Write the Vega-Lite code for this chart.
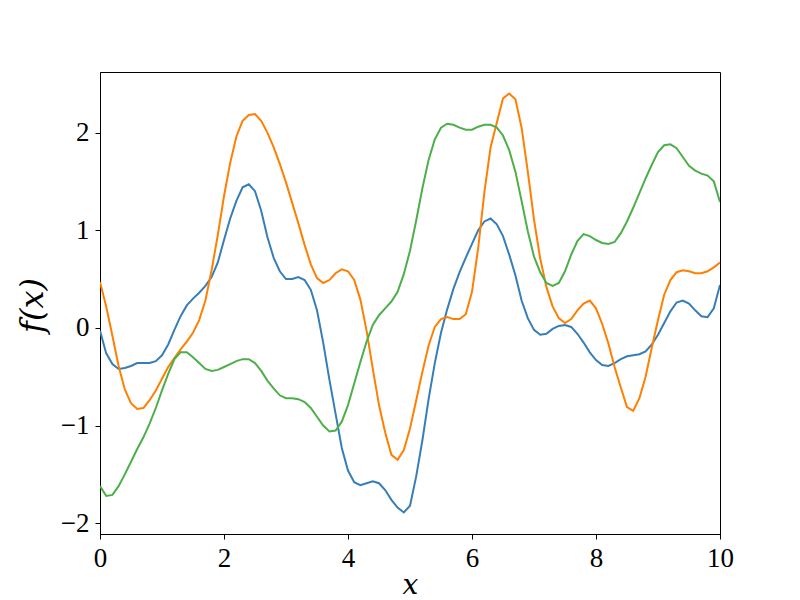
{
  "$schema": "https://vega.github.io/schema/vega-lite/v6.json",
  "width": 620,
  "height": 462,
  "autosize": {"type": "none"},
  "padding": {"left": 100, "top": 72, "right": 80, "bottom": 66},
  "background": "white",
  "config": {
    "view": {"stroke": "black", "strokeWidth": 1},
    "font": "DejaVu Serif"
  },
  "data": {
    "values": [
      {"x": 0.0, "b": -0.03, "o": 0.47, "g": -1.62},
      {"x": 0.1, "b": -0.26, "o": 0.22, "g": -1.72},
      {"x": 0.2, "b": -0.37, "o": -0.08, "g": -1.71},
      {"x": 0.3, "b": -0.42, "o": -0.39, "g": -1.62},
      {"x": 0.4, "b": -0.41, "o": -0.63, "g": -1.50},
      {"x": 0.5, "b": -0.39, "o": -0.77, "g": -1.37},
      {"x": 0.6, "b": -0.36, "o": -0.83, "g": -1.24},
      {"x": 0.7, "b": -0.36, "o": -0.82, "g": -1.12},
      {"x": 0.8, "b": -0.36, "o": -0.74, "g": -0.98},
      {"x": 0.9, "b": -0.34, "o": -0.64, "g": -0.82},
      {"x": 1.0, "b": -0.28, "o": -0.52, "g": -0.64},
      {"x": 1.1, "b": -0.17, "o": -0.40, "g": -0.47},
      {"x": 1.2, "b": -0.02, "o": -0.31, "g": -0.32},
      {"x": 1.3, "b": 0.12, "o": -0.22, "g": -0.25},
      {"x": 1.4, "b": 0.23, "o": -0.14, "g": -0.25},
      {"x": 1.5, "b": 0.30, "o": -0.05, "g": -0.30},
      {"x": 1.6, "b": 0.36, "o": 0.08, "g": -0.36},
      {"x": 1.7, "b": 0.43, "o": 0.28, "g": -0.42},
      {"x": 1.8, "b": 0.52, "o": 0.59, "g": -0.44},
      {"x": 1.9, "b": 0.67, "o": 0.95, "g": -0.43},
      {"x": 2.0, "b": 0.90, "o": 1.35, "g": -0.40},
      {"x": 2.1, "b": 1.12, "o": 1.69, "g": -0.37},
      {"x": 2.2, "b": 1.30, "o": 1.96, "g": -0.34},
      {"x": 2.3, "b": 1.44, "o": 2.12, "g": -0.32},
      {"x": 2.4, "b": 1.47, "o": 2.18, "g": -0.32},
      {"x": 2.5, "b": 1.40, "o": 2.19, "g": -0.36},
      {"x": 2.6, "b": 1.20, "o": 2.12, "g": -0.44},
      {"x": 2.7, "b": 0.93, "o": 2.00, "g": -0.54},
      {"x": 2.8, "b": 0.72, "o": 1.85, "g": -0.62},
      {"x": 2.9, "b": 0.58, "o": 1.68, "g": -0.69},
      {"x": 3.0, "b": 0.50, "o": 1.49, "g": -0.72},
      {"x": 3.1, "b": 0.50, "o": 1.28, "g": -0.72},
      {"x": 3.2, "b": 0.52, "o": 1.07, "g": -0.73},
      {"x": 3.3, "b": 0.49, "o": 0.85, "g": -0.76},
      {"x": 3.4, "b": 0.39, "o": 0.65, "g": -0.82},
      {"x": 3.5, "b": 0.18, "o": 0.51, "g": -0.91},
      {"x": 3.6, "b": -0.15, "o": 0.46, "g": -1.00},
      {"x": 3.7, "b": -0.53, "o": 0.49, "g": -1.06},
      {"x": 3.8, "b": -0.88, "o": 0.56, "g": -1.05},
      {"x": 3.9, "b": -1.23, "o": 0.60, "g": -0.96},
      {"x": 4.0, "b": -1.46, "o": 0.58, "g": -0.79},
      {"x": 4.1, "b": -1.58, "o": 0.49, "g": -0.57},
      {"x": 4.2, "b": -1.61, "o": 0.29, "g": -0.35},
      {"x": 4.3, "b": -1.59, "o": -0.03, "g": -0.14},
      {"x": 4.4, "b": -1.57, "o": -0.42, "g": 0.03},
      {"x": 4.5, "b": -1.59, "o": -0.79, "g": 0.13},
      {"x": 4.6, "b": -1.66, "o": -1.07, "g": 0.20},
      {"x": 4.7, "b": -1.76, "o": -1.30, "g": 0.27},
      {"x": 4.8, "b": -1.84, "o": -1.35, "g": 0.37},
      {"x": 4.9, "b": -1.89, "o": -1.25, "g": 0.55},
      {"x": 5.0, "b": -1.82, "o": -1.03, "g": 0.79},
      {"x": 5.1, "b": -1.52, "o": -0.74, "g": 1.10},
      {"x": 5.2, "b": -1.15, "o": -0.45, "g": 1.43},
      {"x": 5.3, "b": -0.73, "o": -0.18, "g": 1.72},
      {"x": 5.4, "b": -0.36, "o": 0.01, "g": 1.93},
      {"x": 5.5, "b": -0.05, "o": 0.09, "g": 2.05},
      {"x": 5.6, "b": 0.19, "o": 0.11, "g": 2.09},
      {"x": 5.7, "b": 0.40, "o": 0.09, "g": 2.08},
      {"x": 5.8, "b": 0.57, "o": 0.09, "g": 2.05},
      {"x": 5.9, "b": 0.72, "o": 0.14, "g": 2.03},
      {"x": 6.0, "b": 0.86, "o": 0.37, "g": 2.03},
      {"x": 6.1, "b": 1.00, "o": 0.82, "g": 2.06},
      {"x": 6.2, "b": 1.09, "o": 1.39, "g": 2.08},
      {"x": 6.3, "b": 1.12, "o": 1.85, "g": 2.08},
      {"x": 6.4, "b": 1.06, "o": 2.10, "g": 2.05},
      {"x": 6.5, "b": 0.94, "o": 2.35, "g": 1.97},
      {"x": 6.6, "b": 0.75, "o": 2.40, "g": 1.82},
      {"x": 6.7, "b": 0.54, "o": 2.34, "g": 1.60},
      {"x": 6.8, "b": 0.28, "o": 2.05, "g": 1.30},
      {"x": 6.9, "b": 0.10, "o": 1.60, "g": 0.99},
      {"x": 7.0, "b": -0.02, "o": 1.11, "g": 0.73},
      {"x": 7.1, "b": -0.07, "o": 0.71, "g": 0.57},
      {"x": 7.2, "b": -0.06, "o": 0.42, "g": 0.46},
      {"x": 7.3, "b": -0.01, "o": 0.22, "g": 0.43},
      {"x": 7.4, "b": 0.02, "o": 0.10, "g": 0.46},
      {"x": 7.5, "b": 0.03, "o": 0.05, "g": 0.58},
      {"x": 7.6, "b": 0.01, "o": 0.09, "g": 0.75},
      {"x": 7.7, "b": -0.06, "o": 0.18, "g": 0.89},
      {"x": 7.8, "b": -0.15, "o": 0.25, "g": 0.96},
      {"x": 7.9, "b": -0.25, "o": 0.28, "g": 0.94},
      {"x": 8.0, "b": -0.33, "o": 0.20, "g": 0.90},
      {"x": 8.1, "b": -0.38, "o": 0.04, "g": 0.87},
      {"x": 8.2, "b": -0.39, "o": -0.16, "g": 0.86},
      {"x": 8.3, "b": -0.36, "o": -0.40, "g": 0.88},
      {"x": 8.4, "b": -0.32, "o": -0.61, "g": 0.97},
      {"x": 8.5, "b": -0.29, "o": -0.81, "g": 1.09},
      {"x": 8.6, "b": -0.28, "o": -0.85, "g": 1.23},
      {"x": 8.7, "b": -0.27, "o": -0.72, "g": 1.38},
      {"x": 8.8, "b": -0.24, "o": -0.50, "g": 1.53},
      {"x": 8.9, "b": -0.17, "o": -0.20, "g": 1.67},
      {"x": 9.0, "b": -0.07, "o": 0.08, "g": 1.80},
      {"x": 9.1, "b": 0.05, "o": 0.34, "g": 1.87},
      {"x": 9.2, "b": 0.17, "o": 0.49, "g": 1.88},
      {"x": 9.3, "b": 0.26, "o": 0.57, "g": 1.84},
      {"x": 9.4, "b": 0.28, "o": 0.59, "g": 1.75},
      {"x": 9.5, "b": 0.25, "o": 0.58, "g": 1.66},
      {"x": 9.6, "b": 0.18, "o": 0.56, "g": 1.61},
      {"x": 9.7, "b": 0.12, "o": 0.56, "g": 1.58},
      {"x": 9.8, "b": 0.11, "o": 0.58, "g": 1.56},
      {"x": 9.9, "b": 0.20, "o": 0.62, "g": 1.50},
      {"x": 10.0, "b": 0.44, "o": 0.67, "g": 1.29}
    ]
  },
  "transform": [{"fold": ["b", "o", "g"], "as": ["s", "y"]}],
  "mark": {"type": "line", "strokeWidth": 2, "clip": true},
  "encoding": {
    "x": {
      "field": "x",
      "type": "quantitative",
      "scale": {"domain": [0, 10], "nice": false, "zero": false},
      "axis": {
        "values": [0, 2, 4, 6, 8, 10],
        "title": "x",
        "titleFont": "DejaVu Serif",
        "titleFontStyle": "italic",
        "titleFontWeight": "normal",
        "titleFontSize": 28,
        "titleColor": "black",
        "titleBaseline": "bottom",
        "titleY": 65,
        "labelFont": "Liberation Serif",
        "labelFontSize": 27,
        "labelColor": "black",
        "labelPadding": 6,
        "labelFlush": false,
        "grid": false,
        "tickSize": 5,
        "tickColor": "black",
        "domainColor": "black"
      }
    },
    "y": {
      "field": "y",
      "type": "quantitative",
      "scale": {"domain": [-2.11, 2.62], "nice": false, "zero": false},
      "axis": {
        "values": [-2, -1, 0, 1, 2],
        "title": "f(x)",
        "titleFont": "DejaVu Serif",
        "titleFontStyle": "italic",
        "titleFontWeight": "normal",
        "titleFontSize": 32,
        "titleColor": "black",
        "titleBaseline": "middle",
        "titleX": -68,
        "titleY": 233,
        "labelFont": "Liberation Serif",
        "labelFontSize": 27,
        "labelColor": "black",
        "labelPadding": 6,
        "labelFlush": false,
        "grid": false,
        "tickSize": 5,
        "tickColor": "black",
        "domainColor": "black"
      }
    },
    "color": {
      "field": "s",
      "type": "nominal",
      "scale": {"domain": ["b", "o", "g"], "range": ["#377eb8", "#ff7f00", "#4daf4a"]},
      "legend": null
    },
    "order": {"field": "x", "type": "quantitative"}
  }
}
